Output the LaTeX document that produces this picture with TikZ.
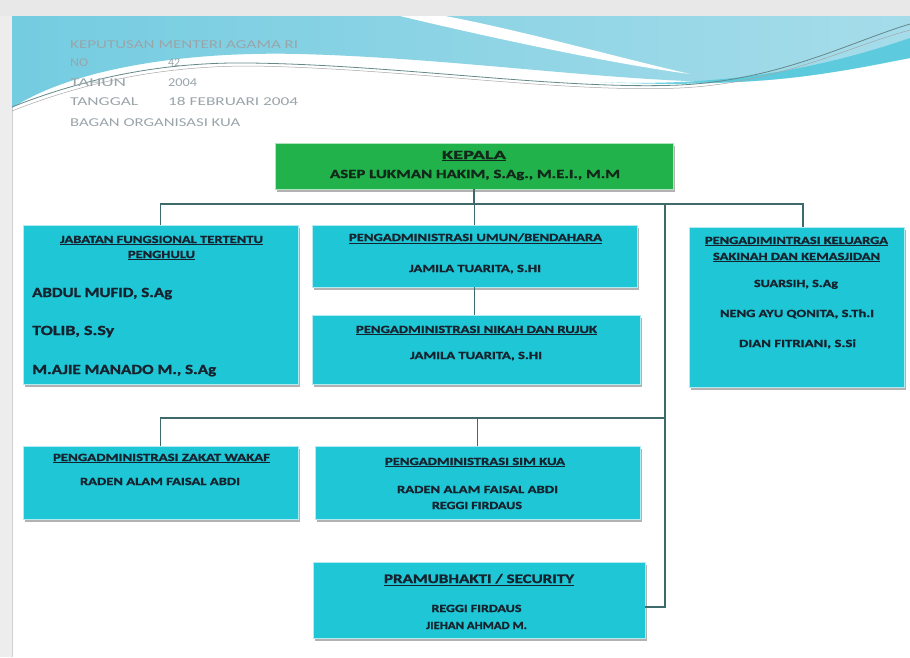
\documentclass[tikz,border=0pt]{standalone}
\usepackage{fontspec}
\setmainfont{Carlito}[BoldFeatures={FakeBold=1.2}]
\usetikzlibrary{shadows}
\definecolor{boxcyan}{HTML}{1FC6D6}
\definecolor{kepgreen}{HTML}{22B24C}
\definecolor{txtdark}{HTML}{16222E}
\definecolor{kepdark}{HTML}{12281A}
\definecolor{linec}{HTML}{3E6A6C}
\definecolor{hdrgray}{HTML}{9AA5AA}
\definecolor{blueleft}{HTML}{74CCE0}
\definecolor{blueright}{HTML}{A6DCEA}
\definecolor{bluecyan}{HTML}{4CC6DA}
\newcommand\fw[2]{\resizebox{#1pt}{\height}{#2}}
\begin{document}
\begin{tikzpicture}[x=1pt,y=-1pt,
  cbox/.style={fill=boxcyan, draw=white!65!boxcyan, line width=0.8pt,
    drop shadow={shadow xshift=1.5pt, shadow yshift=-2.5pt, fill=black, opacity=0.3}},
  gbox/.style={fill=kepgreen, draw=white!65!kepgreen, line width=0.8pt,
    drop shadow={shadow xshift=1.5pt, shadow yshift=-2.5pt, fill=black, opacity=0.3}},
  hd/.style={font=\bfseries\fontsize{11}{13}\selectfont, text=txtdark, inner sep=0, anchor=base},
  nm/.style={font=\bfseries\fontsize{11}{13}\selectfont, text=txtdark, inner sep=0, anchor=base},
  bignm/.style={font=\bfseries\fontsize{14}{16}\selectfont, text=txtdark, inner sep=0, anchor=base west},
  kp/.style={font=\bfseries\fontsize{12.5}{14}\selectfont, text=kepdark, inner sep=0, anchor=base},
  hdr/.style={font=\fontsize{12}{14}\selectfont, text=hdrgray, inner sep=0, anchor=base west},
  conn/.style={draw=linec, line width=1.1pt}]
\useasboundingbox (0,0) rectangle (910,657);
% page background
\fill[black!7] (0,0) rectangle (910,657);
\fill[black!9] (0,0) rectangle (910,16);
\fill[white] (12,16) rectangle (910,657);
\draw[black!18, line width=0.8pt] (12,657) -- (12,16) -- (910,16);
% top banner
\shade[left color=blueleft, right color=blueright]
  (12,16) -- (910,16) -- (910,58)
  .. controls (860,66) and (800,82) .. (720,82)
  .. controls (600,80) and (450,58) .. (300,54)
  .. controls (180,51) and (70,70) .. (12,108) -- cycle;
\fill[white] (400,16) .. controls (500,40) and (620,65) .. (690,74)
  .. controls (620,58) and (520,30) .. (445,16) -- cycle;
\fill[bluecyan, opacity=0.8] (600,82) .. controls (740,88) and (840,62) .. (910,38)
  -- (910,58) .. controls (850,70) and (760,90) .. (600,82) -- cycle;
\draw[linec!80, line width=0.8pt] (12,107) .. controls (100,72) and (180,62) .. (250,63)
  .. controls (400,65) and (560,90) .. (680,85) .. controls (780,80) and (850,42) .. (910,24);
\draw[black!35, line width=0.5pt] (12,111) .. controls (100,76) and (180,66) .. (250,66)
  .. controls (400,68) and (560,93) .. (680,88) .. controls (780,83) and (850,46) .. (910,30);
% header text
\node[hdr] (h-kep) at (70,48) {\fw{228}{KEPUTUSAN MENTERI AGAMA RI}};
\node[hdr] (h-no) at (70,66) {\fw{18}{NO}};
\node[hdr] (h-no2) at (168,66) {\fw{12}{42}};
\node[hdr] (h-th) at (70,86) {\fw{56}{TAHUN}};
\node[hdr] (h-th2) at (168,86) {\fw{29}{2004}};
\node[hdr] (h-tg) at (70,105) {\fw{68}{TANGGAL}};
\node[hdr] (h-tg2) at (168,105) {\fw{130}{18 FEBRUARI 2004}};
\node[hdr] (h-bg) at (70,126) {\fw{170}{BAGAN ORGANISASI KUA}};
% boxes
\node[gbox, minimum width=398pt, minimum height=46pt] (kep) at (474,166) {};
\node[cbox, minimum width=275pt, minimum height=159pt] (jab) at (160.5,304.5) {};
\node[cbox, minimum width=325pt, minimum height=62pt] (umum) at (474.5,256) {};
\node[cbox, minimum width=328pt, minimum height=69pt] (nikah) at (476,349.5) {};
\node[cbox, minimum width=215pt, minimum height=160pt] (kel) at (796.5,307) {};
\node[cbox, minimum width=275pt, minimum height=73pt] (zakat) at (160.5,482.5) {};
\node[cbox, minimum width=325pt, minimum height=73pt] (sim) at (477.5,482.5) {};
\node[cbox, minimum width=332pt, minimum height=76pt] (sec) at (479,600) {};
% connectors
\coordinate (h1) at (474,204);
\coordinate (v1) at (665,204);
\coordinate (h2) at (665,418);
\draw[conn] (kep.south) -- (h1);
\draw[conn] (jab.north) |- (h1) -| ([xshift=6.5pt]kel.north);
\draw[conn] (umum.north) -- (umum.north |- h1);
\draw[conn] (umum.south) -- (umum.south |- nikah.north);
\draw[conn] (v1) |- ([yshift=-7pt]sec.east);
\draw[conn] (h2) -| (zakat.north);
\draw[conn] (sim.north) -- (sim.north |- h2);
% texts
\node[kp] (kep-t) at (474,159) {\fw{64}{\underline{KEPALA}}};
\node[kp] (kep-n) at (475,178) {\fw{290}{ASEP LUKMAN HAKIM, S.Ag., M.E.I., M.M}};
\node[hd] (jab-t1) at (161.5,243) {\fw{203}{\underline{JABATAN FUNGSIONAL TERTENTU}}};
\node[hd] (jab-t2) at (161.5,258) {\fw{67}{\underline{PENGHULU}}};
\node[bignm] (jab-n1) at (32,297) {\fw{140}{ABDUL MUFID, S.Ag}};
\node[bignm] (jab-n2) at (32,335) {\fw{82}{TOLIB, S.Sy}};
\node[bignm] (jab-n3) at (32,374) {\fw{184}{M.AJIE MANADO M., S.Ag}};
\node[hd] (umum-t) at (475.5,241) {\fw{253}{\underline{PENGADMINISTRASI UMUN/BENDAHARA}}};
\node[nm] (umum-n) at (475,272) {\fw{132}{JAMILA TUARITA, S.HI}};
\node[hd] (nikah-t) at (476.5,333) {\fw{241}{\underline{PENGADMINISTRASI NIKAH DAN RUJUK}}};
\node[nm] (nikah-n) at (476,359) {\fw{132}{JAMILA TUARITA, S.HI}};
\node[hd] (kel-t1) at (796.5,244) {\fw{183}{\underline{PENGADIMINTRASI KELUARGA}}};
\node[hd] (kel-t2) at (796.5,260) {\fw{167}{\underline{SAKINAH DAN KEMASJIDAN}}};
\node[nm] (kel-n1) at (796,287) {\fw{84}{SUARSIH, S.Ag}};
\node[nm] (kel-n2) at (797,317) {\fw{154}{NENG AYU QONITA, S.Th.I}};
\node[nm] (kel-n3) at (797.5,347) {\fw{117}{DIAN FITRIANI, S.Si}};
\node[hd] (zakat-t) at (161.5,461) {\fw{217}{\underline{PENGADMINISTRASI ZAKAT WAKAF}}};
\node[nm] (zakat-n) at (160,485) {\fw{160}{RADEN ALAM FAISAL ABDI}};
\node[hd] (sim-t) at (475,465) {\fw{180}{\underline{PENGADMINISTRASI SIM KUA}}};
\node[nm] (sim-n1) at (477.5,493) {\fw{161}{RADEN ALAM FAISAL ABDI}};
\node[nm] (sim-n2) at (477,509) {\fw{90}{REGGI FIRDAUS}};
\node[hd, font=\bfseries\fontsize{13}{15}\selectfont] (sec-t) at (479,583) {\fw{190}{\underline{PRAMUBHAKTI / SECURITY}}};
\node[nm] (sec-n1) at (476.5,612) {\fw{90}{REGGI FIRDAUS}};
\node[nm] (sec-n2) at (476.5,629) {\fw{101}{JIEHAN AHMAD M.}};
\end{tikzpicture}
\end{document}
